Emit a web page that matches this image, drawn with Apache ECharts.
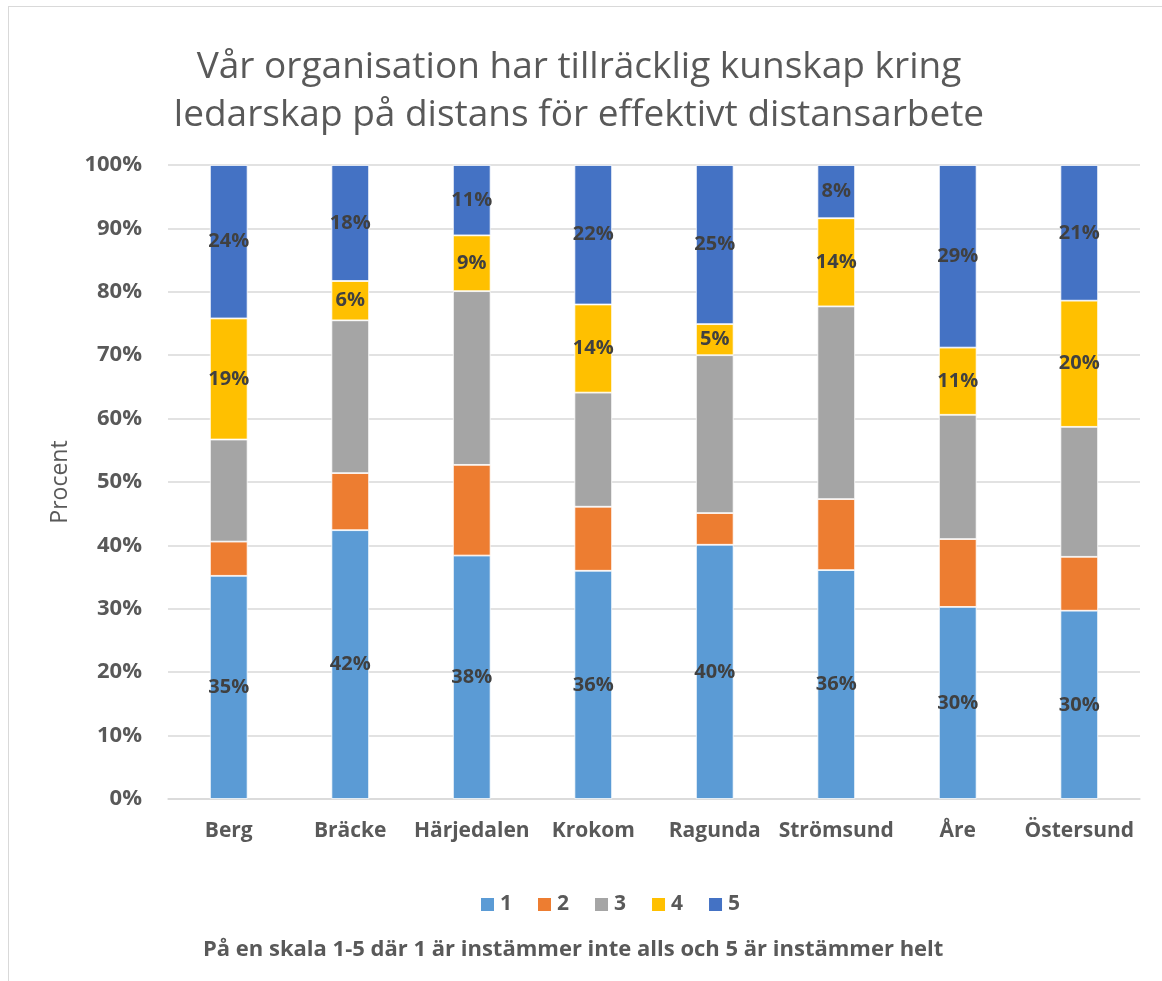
<!DOCTYPE html>
<html>
<head>
<meta charset="utf-8">
<script src="https://cdn.jsdelivr.net/npm/echarts@6/dist/echarts.min.js"></script>
<style>
html,body{margin:0;padding:0;background:#fff;}
#frame{position:absolute;left:8px;top:6px;width:1160px;height:980px;border:1px solid #d9d9d9;box-sizing:border-box;}
#chart{position:absolute;left:0;top:0;width:1162px;height:981px;}
</style>
</head>
<body>
<div id="frame"></div>
<div id="chart"></div>
<script>
const categories = ['Berg','Bräcke','Härjedalen','Krokom','Ragunda','Strömsund','Åre','Östersund'];
const s1 = [35.2, 42.4, 38.4, 36.0, 40.1, 36.1, 30.3, 29.7];
const s2 = [5.4, 9.0, 14.3, 10.1, 5.0, 11.2, 10.7, 8.5];
const s3 = [16.1, 24.1, 27.4, 18.0, 24.9, 30.4, 19.6, 20.5];
const s4 = [19.1, 6.2, 8.8, 13.9, 4.9, 13.9, 10.6, 19.9];
const s5 = [24.2, 18.3, 11.1, 22.0, 25.1, 8.4, 28.8, 21.4];
const seriesNames = ['1','2','3','4','5'];
const seriesColors = ['#5B9BD5','#ED7D31','#A5A5A5','#FFC000','#4472C4'];
const showLabel = [true,false,false,true,true];
const yTicks = ['0%','10%','20%','30%','40%','50%','60%','70%','80%','90%','100%'];
const titleText = 'Vår organisation har tillräcklig kunskap kring\nledarskap på distans för effektivt distansarbete';
const subText = 'På en skala 1-5 där 1 är instämmer inte alls och 5 är instämmer helt';
const yName = 'Procent';

const FONT = 'Open Sans';
const chart = echarts.init(document.getElementById('chart'), null, {renderer:'canvas'});
const allData = [s1,s2,s3,s4,s5];
const series = allData.map((d,i)=>({
  name: seriesNames[i],
  type: 'bar',
  stack: 'total',
  barWidth: '31%',
  data: d,
  itemStyle: {color: seriesColors[i], borderColor:'#ffffff', borderWidth:0.8},
  label: {
    show: showLabel[i],
    position: 'inside',
    formatter: p => Math.round(p.value) + '%',
    color: '#404040',
    fontFamily: FONT,
    fontWeight: 'bold',
    fontSize: 20
  },
  emphasis:{disabled:true}
}));

chart.setOption({
  animation: false,
  title: {
    text: titleText,
    left: 574,
    top: 38,
    textAlign: 'center',
    textStyle: {fontFamily: FONT, fontWeight:'normal', fontSize: 37, color:'#595959', lineHeight: 48}
  },
  legend: {
    data: seriesNames,
    left: 474,
    top: 889,
    itemWidth: 15,
    itemHeight: 15,
    itemGap: 24,
    icon: 'rect',
    textStyle: {fontFamily: FONT, fontWeight:'bold', fontSize: 21, color:'#595959'}
  },
  grid: {left: 168, right: 22, top: 165, bottom: 182, containLabel: false},
  xAxis: {
    type: 'category',
    data: categories,
    axisLine: {show:true, lineStyle:{color:'#d9d9d9', width:1.5}},
    axisTick: {show:false},
    axisLabel: {interval: 0, fontFamily: FONT, fontWeight:'bold', fontSize: 21, color:'#595959', margin: 22}
  },
  yAxis: {
    type: 'value',
    min: 0, max: 100, interval: 10,
    name: yName,
    nameLocation: 'middle',
    nameGap: 96,
    nameTextStyle: {fontFamily: FONT, fontSize: 23, color:'#595959'},
    axisLine: {show:false},
    axisTick: {show:false},
    splitLine: {lineStyle:{color:'#d9d9d9', width:1.5}},
    axisLabel: {fontFamily: FONT, fontWeight:'bold', fontSize: 22, color:'#595959', margin: 26,
      formatter: v => yTicks[Math.round(v/10)]}
  },
  graphic: [{
    type: 'text',
    left: 203,
    top: 939,
    style: {text: subText, fontFamily: FONT, fontWeight:'bold', fontSize: 22, fill:'#595959'}
  }],
  series: series
});
</script>
</body>
</html>
